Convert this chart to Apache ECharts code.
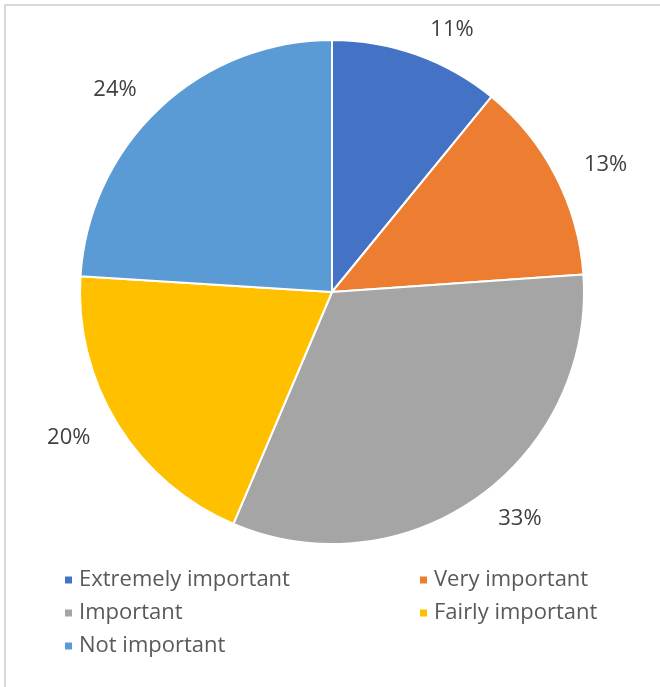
<!DOCTYPE html>
<html>
<head>
<meta charset="utf-8">
<script src="https://cdn.jsdelivr.net/npm/echarts@6/dist/echarts.min.js"></script>
<style>html,body{margin:0;padding:0;background:#fff;}#c{width:660px;height:687px;}</style>
</head>
<body>
<div id="c"></div>
<script>
const categories = ['Extremely important', 'Very important', 'Important', 'Fairly important', 'Not important'];
const values = [10.9, 13.0, 32.5, 19.6, 24.0];
const colors = ['#4472C4', '#ED7D31', '#A5A5A5', '#FFC000', '#5B9BD5'];

const chart = echarts.init(document.getElementById('c'));
const font = '"Open Sans", "Noto Sans", sans-serif';
chart.setOption({
  animation: false,
  color: colors,
  graphic: [{
    type: 'rect', shape: {x: 5, y: 5, width: 700, height: 700},
    style: {fill: 'none', stroke: '#d9d9d9', lineWidth: 2}, silent: true
  }],
  legend: [{
    orient: 'vertical', left: 58, top: 564, itemGap: 11,
    icon: 'rect', itemWidth: 9, itemHeight: 9,
    data: [categories[0], categories[2], categories[4]],
    textStyle: {fontFamily: font, fontSize: 22, color: '#595959', padding: [0, 0, 0, 1]}
  }, {
    orient: 'vertical', left: 413, top: 564, itemGap: 11,
    icon: 'rect', itemWidth: 9, itemHeight: 9,
    data: [categories[1], categories[3]],
    textStyle: {fontFamily: font, fontSize: 22, color: '#595959', padding: [0, 0, 0, 1]}
  }],
  series: [{
    type: 'pie',
    center: [332, 292],
    radius: 252,
    startAngle: 90,
    clockwise: true,
    itemStyle: {borderColor: '#fff', borderWidth: 2},
    label: {
      show: true, position: 'outside',
      fontFamily: font, fontSize: 22, color: '#404040',
      formatter: p => Math.round(p.value) + '%'
    },
    labelLine: {show: false, length: 26, length2: 0},
    emphasis: {disabled: true},
    data: categories.map((n, i) => ({name: n, value: values[i]}))
  }]
});
</script>
</body>
</html>
